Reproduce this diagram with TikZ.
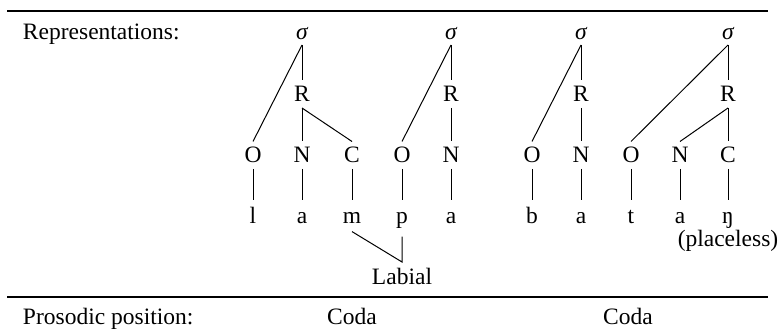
\documentclass[tikz,border=0pt]{standalone}
\usepackage{fontspec}
\setmainfont{Liberation Serif}
\begin{document}
\begin{tikzpicture}[x=0.5pt,y=-0.5pt,
  font=\fontsize{11.75}{14}\selectfont,
  txt/.style={inner sep=0pt, outer sep=0pt, anchor=base},
  sig/.style={inner xsep=1pt, inner ysep=2.5pt, outer sep=0pt, text depth=0pt, anchor=base, font=\fontsize{11.75}{14}\selectfont\itshape},
  tn/.style={inner xsep=1pt, inner ysep=3pt, outer sep=0pt, text height=7.75pt, text depth=0pt, anchor=base},
  seg/.style={inner xsep=1pt, inner ysep=3.8pt, outer sep=0pt, text height=8.2pt, anchor=base},
  labnode/.style={inner xsep=1pt, inner ysep=3.75pt, outer sep=0pt, text height=7.75pt, text depth=0pt, anchor=base},
  ln/.style={line width=0.5pt},
  rulestyle/.style={line width=1.3pt}]
\useasboundingbox (0,0) rectangle (782,331);

% rules
\coordinate (tl) at (7,11);
\coordinate (tr) at (768,11);
\coordinate (bl) at (7,297);
\coordinate (br) at (768,297);
\draw[rulestyle] (tl) -- (tr);
\draw[rulestyle] (bl) -- (br);

% row labels
\node[txt, anchor=base west] (rep) at (23,40) {Representations:};
\node[txt, anchor=base west] (pros) at (23,325) {Prosodic position:};
\node[txt] (coda1) at (352,325) {Coda};
\node[txt] (coda2) at (628,325) {Coda};

% tree 1: l a m
\node[sig] (s1) at (302,40) {σ};
\node[tn] (r1) at (302,102) {R};
\node[tn] (o1) at (253,163) {O};
\node[tn] (n1) at (302,163) {N};
\node[tn] (c1) at (352,163) {C};
\node[seg] (l1) at (253,224) {l};
\node[seg] (a1) at (302,224) {a};
\node[seg] (m1) at (352,224) {m};

% tree 2: p a
\node[sig] (s2) at (451,40) {σ};
\node[tn] (r2) at (451,102) {R};
\node[tn] (o2) at (402,163) {O};
\node[tn] (n2) at (451,163) {N};
\node[seg] (p2) at (402,224) {p};
\node[seg] (a2) at (451,224) {a};

% tree 3: b a
\node[sig] (s3) at (581,40) {σ};
\node[tn] (r3) at (581,102) {R};
\node[tn] (o3) at (532,163) {O};
\node[tn] (n3) at (581,163) {N};
\node[seg] (b3) at (532,224) {b};
\node[seg] (a3) at (581,224) {a};

% tree 4: t a ŋ
\node[sig] (s4) at (728,40) {σ};
\node[tn] (r4) at (728,102) {R};
\node[tn] (o4) at (631,163) {O};
\node[tn] (n4) at (680,163) {N};
\node[tn] (c4) at (728,163) {C};
\node[seg] (t4) at (631,224) {t};
\node[seg] (a4) at (680,224) {a};
\node[seg] (ng4) at (728,224) {ŋ};
\node[txt] (plc) at (728,247) {(placeless)};

% Labial
\node[labnode] (lab) at (402,285) {Labial};

% connectors tree 1
\draw[ln] (s1.south) -- (o1.north);
\draw[ln] (s1.south) -- (r1.north);
\draw[ln] (r1.south) -- (n1.north);
\draw[ln] (r1.south) -- (c1.north);
\draw[ln] (o1.south) -- (l1.north);
\draw[ln] (n1.south) -- (a1.north);
\draw[ln] (c1.south) -- (m1.north);

% tree 2
\draw[ln] (s2.south) -- (o2.north);
\draw[ln] (s2.south) -- (r2.north);
\draw[ln] (r2.south) -- (n2.north);
\draw[ln] (o2.south) -- (p2.north);
\draw[ln] (n2.south) -- (a2.north);

% tree 3
\draw[ln] (s3.south) -- (o3.north);
\draw[ln] (s3.south) -- (r3.north);
\draw[ln] (r3.south) -- (n3.north);
\draw[ln] (o3.south) -- (b3.north);
\draw[ln] (n3.south) -- (a3.north);

% tree 4
\draw[ln] (s4.south) -- (o4.north);
\draw[ln] (s4.south) -- (r4.north);
\draw[ln] (r4.south) -- (n4.north);
\draw[ln] (r4.south) -- (c4.north);
\draw[ln] (o4.south) -- (t4.north);
\draw[ln] (n4.south) -- (a4.north);
\draw[ln] (c4.south) -- (ng4.north);

% shared Labial
\draw[ln] (m1.south) -- (lab.north) -- (p2.south);
\end{tikzpicture}
\end{document}
